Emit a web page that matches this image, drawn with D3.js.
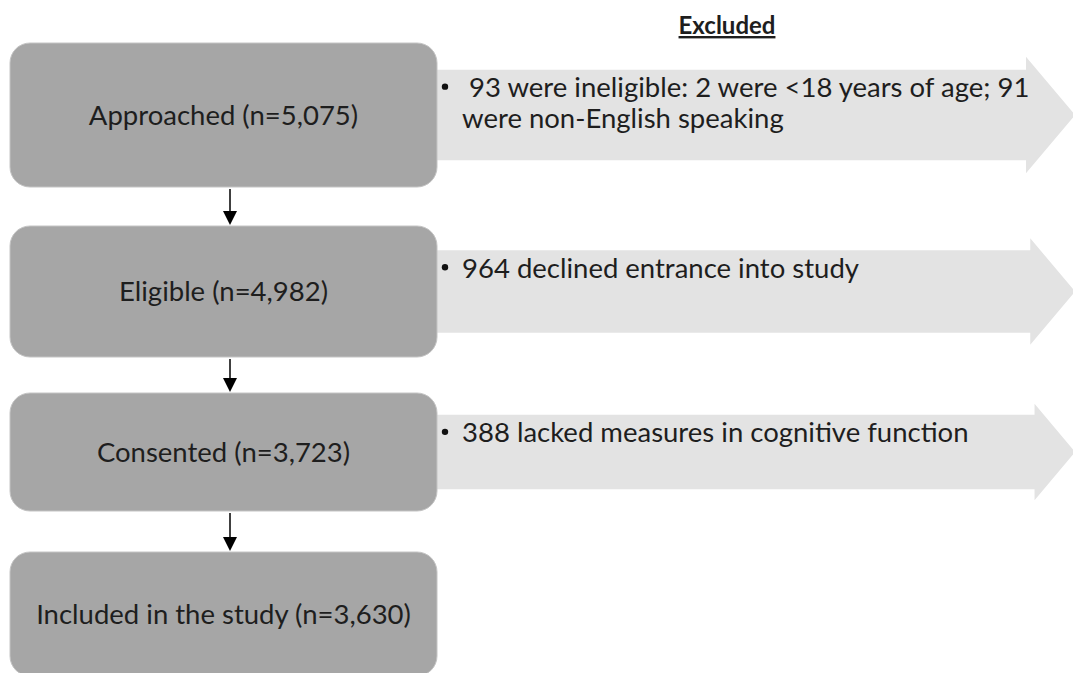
<!DOCTYPE html>
<html>
<head>
<meta charset="utf-8">
<script src="https://d3js.org/d3.v7.min.js"></script>
<style>
  body { margin: 0; background: #fff; }
  svg { display: block; }
  text { font-family: Lato, "Open Sans", sans-serif; fill: #1e1e1e; }
</style>
</head>
<body>
<svg width="1073" height="673"></svg>
<script>
// flow stages and the counts
var stageLabels = ["Approached", "Eligible", "Consented", "Included in the study"];
var stageCounts = [5075, 4982, 3723, 3630];

// exclusion notes, one entry per step (lines of wrapped text)
var exclusionLines = [
  [" 93 were ineligible: 2 were <18 years of age; 91", "were non-English speaking"],
  ["964 declined entrance into study"],
  ["388 lacked measures in cognitive function"]
];
var exclusionTitle = "Excluded";

// layout of the boxes (top, height) - the boxes in the figure shrink a bit going down
var boxTop = [43, 226, 393, 552];
var boxH = [144, 131, 118, 124];
var boxX = 10, boxW = 427;
var fmt = d3.format(",");

var svg = d3.select("svg");

// column title
svg.append("text")
  .attr("x", 727).attr("y", 34)
  .attr("text-anchor", "middle")
  .style("font-size", "24px").style("font-weight", "bold")
  .style("text-decoration", "underline")
  .text(exclusionTitle);

// grey exclusion arrows, drawn first so the box edge sits on top
var tipX = 1075;
var arrows = svg.selectAll("g.excl")
  .data(exclusionLines)
  .enter().append("g").attr("class", "excl");

arrows.append("path")
  .attr("fill", "#e3e3e3")
  .attr("d", function(d, i) {
    var cy = boxTop[i] + boxH[i] / 2;
    var bh = boxH[i] * 0.315;      // half height of shaft
    var hh = bh + 13 - i;          // half height of head
    var hl = hh * 0.84;            // head length
    var p = d3.path();
    p.moveTo(boxX + boxW - 4, cy - bh);
    p.lineTo(tipX - hl, cy - bh);
    p.lineTo(tipX - hl, cy - hh);
    p.lineTo(tipX, cy);
    p.lineTo(tipX - hl, cy + hh);
    p.lineTo(tipX - hl, cy + bh);
    p.lineTo(boxX + boxW - 4, cy + bh);
    p.closePath();
    return p.toString();
  });

arrows.each(function(lines, i) {
  var g = d3.select(this);
  var cy = boxTop[i] + boxH[i] / 2;
  var top = cy - boxH[i] * 0.315;
  g.append("circle")
    .attr("cx", 445).attr("cy", top + 17).attr("r", 3.2)
    .attr("fill", "#111");
  g.selectAll("text").data(lines).enter().append("text")
    .attr("x", 462)
    .attr("y", function(d, j) { return top + 18 + j * 31; })
    .attr("dy", "0.35em")
    .attr("xml:space", "preserve")
    .style("white-space", "pre")
    .style("font-size", "27.5px")
    .text(function(d) { return d; });
});

// stage boxes
var boxes = svg.selectAll("g.stage")
  .data(stageLabels)
  .enter().append("g").attr("class", "stage");

boxes.append("rect")
  .attr("x", boxX)
  .attr("y", function(d, i) { return boxTop[i]; })
  .attr("width", boxW)
  .attr("height", function(d, i) { return boxH[i]; })
  .attr("rx", 20).attr("ry", 20)
  .attr("fill", "#a6a6a6")
  .attr("stroke", "#c4c4c4").attr("stroke-width", 1);

boxes.append("text")
  .attr("x", boxX + boxW / 2)
  .attr("y", function(d, i) { return boxTop[i] + boxH[i] / 2; })
  .attr("dy", "0.35em")
  .attr("text-anchor", "middle")
  .style("font-size", "27.5px")
  .text(function(d, i) { return d + " (n=" + fmt(stageCounts[i]) + ")"; });

// connector arrows between boxes
var ax = 230;
var links = d3.range(stageLabels.length - 1);
svg.selectAll("line.link").data(links).enter().append("line")
  .attr("x1", ax).attr("x2", ax)
  .attr("y1", function(i) { return boxTop[i] + boxH[i] + 2; })
  .attr("y2", function(i) { return boxTop[i + 1] - 12; })
  .attr("stroke", "#000").attr("stroke-width", 1.5);

svg.selectAll("path.head").data(links).enter().append("path")
  .attr("fill", "#000")
  .attr("d", function(i) {
    var y = boxTop[i + 1] - 1;
    return "M" + (ax - 7) + "," + (y - 14) + "L" + (ax + 7) + "," + (y - 14) + "L" + ax + "," + y + "Z";
  });
</script>
</body>
</html>
